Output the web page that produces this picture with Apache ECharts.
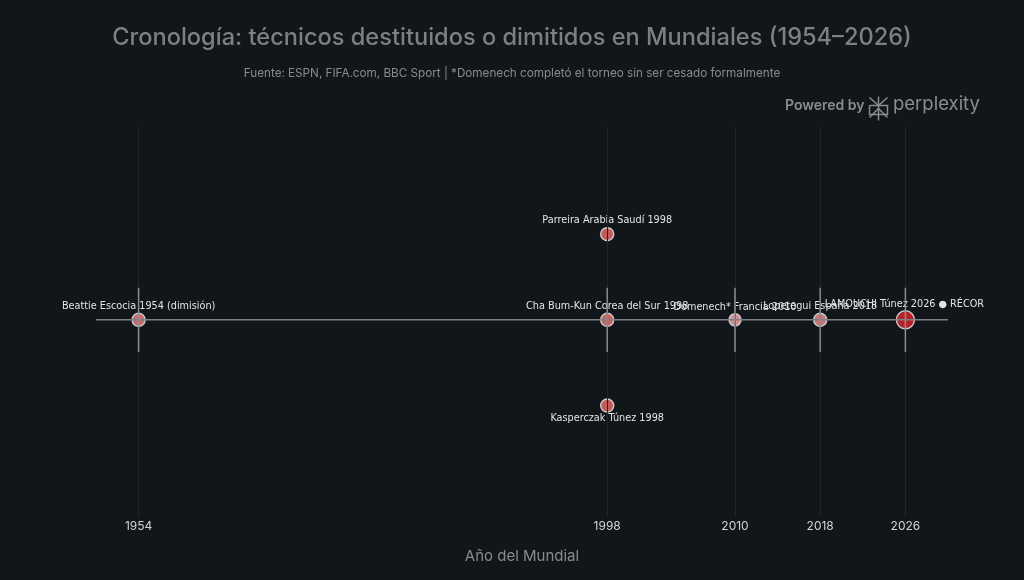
<!DOCTYPE html>
<html>
<head>
<meta charset="utf-8">
<script src="https://cdn.jsdelivr.net/npm/echarts@6/dist/echarts.min.js"></script>
<style>
  html, body { margin: 0; padding: 0; background: #11161b; }
  #main { width: 1024px; height: 580px; }
</style>
</head>
<body>
<div id="main"></div>
<script>
// datos: un punto por técnico
const years = [1954, 1998, 1998, 1998, 2010, 2018, 2026];
const levels = [0, 1, 0, -1, 0, 0, 0];
const names = [
  "Beattie Escocia 1954 (dimisión)",
  "Parreira Arabia Saudí 1998",
  "Cha Bum-Kun Corea del Sur 1998",
  "Kasperczak Túnez 1998",
  "Domenech* Francia 2010",
  "Lopetegui España 2018",
  "LAMOUCHI Túnez 2026 ● RÉCORD"
];
const sizes = [13, 13, 13, 13, 12, 13, 18];
const colors = ["#cd6666", "#c25a5a", "#c86262", "#c25a5a", "#d48c8c", "#cf7373", "#b52126"];
const tickYears = [1954, 1998, 2010, 2018, 2026];
const timelineSpan = [1950, 2030];

let chart = echarts.init(document.getElementById("main"));

let points = years.map((y, i) => ({
  value: [y, levels[i]],
  name: names[i],
  symbolSize: sizes[i],
  itemStyle: { color: colors[i] },
  label: levels[i] < 0 ? { position: "bottom", distance: 1 } :
    (i === 6 ? { width: 167, overflow: "truncate", ellipsis: "", offset: [-1, 0], distance: 1 } : {})
}));

// segmentos verticales cortos en los puntos de la línea
let segSeries = years
  .filter((y, i) => levels[i] === 0)
  .map((y) => ({
    type: "line",
    data: [[y, -0.375], [y, 0.375]],
    symbol: "none",
    silent: true,
    z: 5,
    lineStyle: { color: "#8a8d91", width: 1.5 }
  }));

let option = {
  backgroundColor: "#11161b",
  animation: false,
  title: {
    text: "Cronología: técnicos destituidos o dimitidos en Mundiales (1954–2026)",
    subtext: "Fuente: ESPN, FIFA.com, BBC Sport | *Domenech completó el torneo sin ser cesado formalmente",
    left: "center",
    top: 21,
    itemGap: 17,
    textStyle: { color: "#7f7f7f", fontSize: 23.6, fontWeight: 500, fontFamily: "Inter" },
    subtextStyle: { color: "#8a8a8a", fontSize: 11.7, fontFamily: "Inter" }
  },
  graphic: [
    {
      type: "text", left: 785, top: 99,
      style: { text: "Powered by", fill: "#8c8c8c", font: "600 14px Inter" }
    },
    {
      type: "group", left: 867, top: 94,
      children: [
        { type: "line", shape: { x1: 10, y1: 0, x2: 10, y2: 24 }, style: { stroke: "#8c8c8c", lineWidth: 1.5 } },
        { type: "polyline", shape: { points: [[1, 1], [10, 9], [19, 1]] }, style: { stroke: "#8c8c8c", lineWidth: 1.5, fill: null } },
        { type: "polyline", shape: { points: [[1, 21], [10, 12], [19, 21]] }, style: { stroke: "#8c8c8c", lineWidth: 1.5, fill: null } },
        { type: "polyline", shape: { points: [[1, 9], [19, 9], [19, 18], [1, 18], [1, 9]] }, style: { stroke: "#8c8c8c", lineWidth: 1.5, fill: null } }
      ]
    },
    {
      type: "text", left: 893, top: 95,
      style: { text: "perplexity", fill: "#8c8c8c", font: "400 18.5px Inter" }
    }
  ],
  grid: { left: 96, right: 76, top: 127, bottom: 63 },
  xAxis: {
    type: "value",
    min: timelineSpan[0],
    max: timelineSpan[1],
    name: "Año del Mundial",
    nameLocation: "middle",
    nameGap: 32,
    nameTextStyle: { color: "#8a8a8a", fontSize: 15, fontFamily: "Inter" },
    axisLine: { show: false },
    axisTick: { show: false },
    splitLine: { show: false },
    axisLabel: {
      customValues: tickYears,
      formatter: (v) => String(v),
      color: "#d4d4d4",
      fontSize: 12,
      fontFamily: "Inter",
      margin: 3
    }
  },
  yAxis: {
    type: "value",
    min: -2.3,
    max: 2.25,
    show: false,
    splitLine: { show: false }
  },
  series: [
    {
      type: "scatter",
      data: points,
      z: 3,
      itemStyle: { borderColor: "#c8c8c8", borderWidth: 1.5, opacity: 1 },
      label: {
        show: true,
        position: "top",
        distance: 1,
        formatter: (p) => p.name,
        color: "#e4e4e4",
        fontSize: 9.7,
        fontFamily: "DejaVu Sans"
      },
      markLine: {
        silent: true,
        symbol: "none",
        label: { show: false },
        lineStyle: { color: "#20252b", width: 1, type: "solid" },
        data: tickYears.map((t) => ({ xAxis: t }))
      }
    },
    {
      type: "line",
      data: [[timelineSpan[0], 0], [timelineSpan[1], 0]],
      symbol: "none",
      silent: true,
      z: 5,
      lineStyle: { color: "#7d8085", width: 1.5 }
    },
    ...segSeries
  ]
};

chart.setOption(option);
</script>
</body>
</html>
